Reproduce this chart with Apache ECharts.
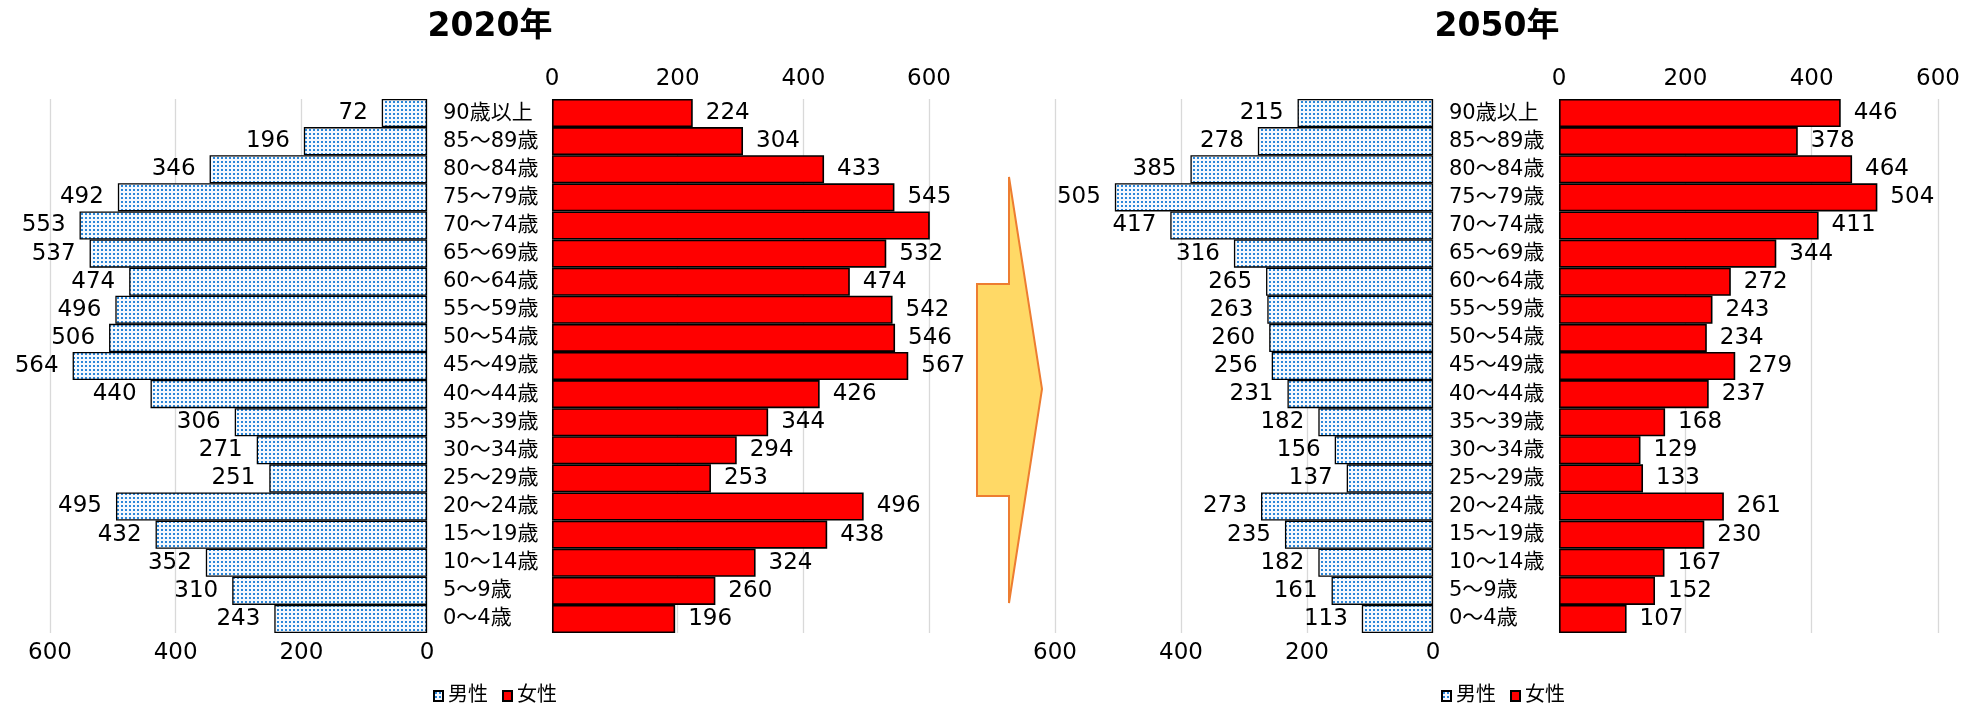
<!DOCTYPE html>
<html>
<head>
<meta charset="utf-8">
<script src="https://cdn.jsdelivr.net/npm/echarts@6/dist/echarts.min.js"></script>
<style>
  html, body { margin: 0; padding: 0; background: #ffffff; }
  #chart { width: 1966px; height: 705px; }
</style>
</head>
<body>
<div id="chart"></div>
<script>
// Age groups, oldest at the top
const ageGroups = ['90歳以上', '85～89歳', '80～84歳', '75～79歳', '70～74歳', '65～69歳',
  '60～64歳', '55～59歳', '50～54歳', '45～49歳', '40～44歳', '35～39歳', '30～34歳',
  '25～29歳', '20～24歳', '15～19歳', '10～14歳', '5～9歳', '0～4歳'];

const male2020   = [72, 196, 346, 492, 553, 537, 474, 496, 506, 564, 440, 306, 271, 251, 495, 432, 352, 310, 243];
const female2020 = [224, 304, 433, 545, 610, 532, 474, 542, 546, 567, 426, 344, 294, 253, 496, 438, 324, 260, 196];
const male2050   = [215, 278, 385, 505, 417, 316, 265, 263, 260, 256, 231, 182, 156, 137, 273, 235, 182, 161, 113];
const female2050 = [446, 378, 464, 504, 411, 344, 272, 243, 234, 279, 237, 168, 129, 133, 261, 230, 167, 152, 107];

const yearTitles = ['2020年', '2050年'];
const sexNames = ['男性', '女性'];
const axisMax = 600;
const axisStep = 200;

const FONT = '"DejaVu Sans", "Noto Sans CJK JP", sans-serif';

// Dotted fill used for the male bars
function dotPattern() {
  const c = document.createElement('canvas');
  c.width = 4; c.height = 4;
  const g = c.getContext('2d');
  g.fillStyle = '#f4f9ff';
  g.fillRect(0, 0, 4, 4);
  g.fillStyle = '#2a86d8';
  g.fillRect(1, 1, 2, 2);
  return c;
}
const maleFill = { image: dotPattern(), repeat: 'repeat' };
const femaleFill = '#ff0000';

// Plot areas: [male 2020, female 2020, male 2050, female 2050]
const grids = [
  { left: 50,   top: 99, width: 377, height: 534 },
  { left: 552,  top: 99, width: 377, height: 534 },
  { left: 1055, top: 99, width: 378, height: 534 },
  { left: 1559, top: 99, width: 379, height: 534 }
];

function valueAxis(gridIndex, isMale) {
  return {
    type: 'value', gridIndex: gridIndex,
    min: 0, max: axisMax, interval: axisStep,
    inverse: isMale,
    position: isMale ? 'bottom' : 'top',
    axisLine: { show: false },
    axisTick: { show: false },
    splitLine: { show: true, lineStyle: { color: '#d9d9d9', width: 1.3 } },
    axisLabel: { fontFamily: FONT, fontSize: 23, color: '#000', margin: isMale ? 9 : 8 }
  };
}

function categoryAxis(gridIndex, isMale) {
  return {
    type: 'category', gridIndex: gridIndex,
    data: ageGroups, inverse: true,
    position: isMale ? 'right' : 'left',
    axisLine: { show: false },
    axisTick: { show: false },
    splitLine: { show: false },
    axisLabel: isMale
      ? { show: true, fontFamily: FONT, fontSize: 21, color: '#000', align: 'left', margin: 16, interval: 0 }
      : { show: false }
  };
}

function barSeries(name, values, idx, isMale) {
  return {
    type: 'bar', name: name,
    xAxisIndex: idx, yAxisIndex: idx,
    data: values.map(function (v) {
      return v > axisMax ? { value: v, label: { show: false } } : v;
    }),
    barCategoryGap: '0%',
    clip: true,
    itemStyle: isMale
      ? { color: maleFill, borderColor: '#000', borderWidth: 1.3 }
      : { color: femaleFill, borderColor: '#000', borderWidth: 1.6 },
    label: {
      show: true,
      position: isMale ? 'left' : 'right',
      distance: isMale ? 14 : 13,
      fontFamily: FONT, fontSize: 23, color: '#000'
    },
    emphasis: { disabled: true },
    animation: false
  };
}

const chart = echarts.init(document.getElementById('chart'), null, { renderer: 'canvas' });

chart.setOption({
  backgroundColor: '#ffffff',
  animation: false,
  title: [
    { text: yearTitles[0], left: 490, top: 11, textAlign: 'center', padding: 0,
      textStyle: { fontFamily: FONT, fontSize: 33, fontWeight: 'bold', color: '#000' } },
    { text: yearTitles[1], left: 1497, top: 11, textAlign: 'center', padding: 0,
      textStyle: { fontFamily: FONT, fontSize: 33, fontWeight: 'bold', color: '#000' } }
  ],
  legend: [
    { data: sexNames, left: 433, top: 686, padding: 0, itemGap: 14, itemWidth: 9, itemHeight: 10,
      icon: 'rect', textStyle: { fontFamily: FONT, fontSize: 20, color: '#000' }, selectedMode: false },
    { data: sexNames, left: 1441, top: 686, padding: 0, itemGap: 14, itemWidth: 9, itemHeight: 10,
      icon: 'rect', textStyle: { fontFamily: FONT, fontSize: 20, color: '#000' }, selectedMode: false }
  ],
  grid: grids,
  xAxis: [valueAxis(0, true), valueAxis(1, false), valueAxis(2, true), valueAxis(3, false)],
  yAxis: [categoryAxis(0, true), categoryAxis(1, false), categoryAxis(2, true), categoryAxis(3, false)],
  series: [
    barSeries(sexNames[0], male2020, 0, true),
    barSeries(sexNames[1], female2020, 1, false),
    barSeries(sexNames[0], male2050, 2, true),
    barSeries(sexNames[1], female2050, 3, false)
  ],
  // Arrow pointing from the 2020 pyramid to the 2050 pyramid
  graphic: [{
    type: 'polygon',
    shape: { points: [[1009, 177], [1042, 389], [1009, 603], [1009, 496], [977, 496], [977, 284], [1009, 284]] },
    style: { fill: '#ffd966', stroke: '#ed7d31', lineWidth: 2 },
    silent: true
  }]
});
</script>
</body>
</html>
